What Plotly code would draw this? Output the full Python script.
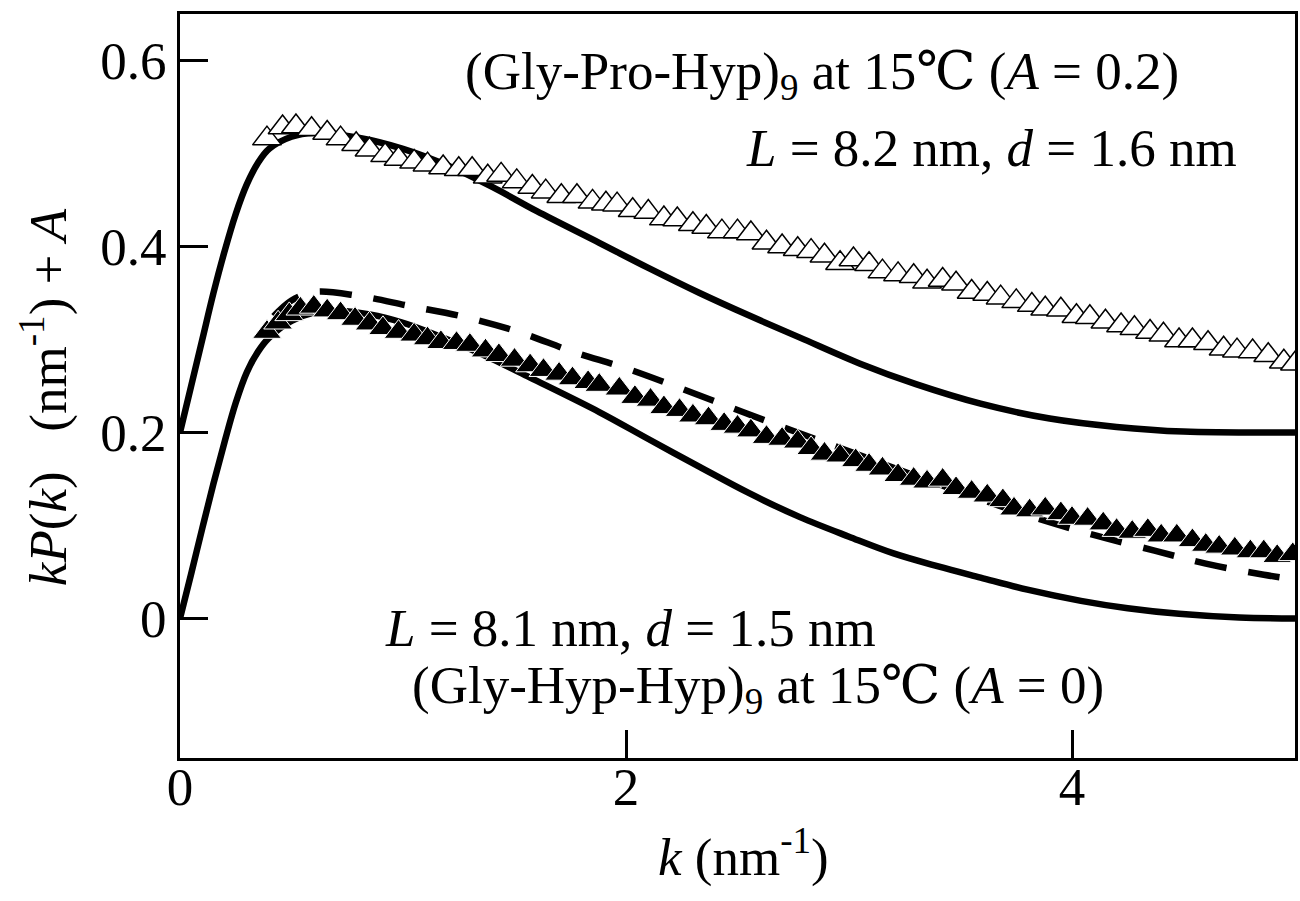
import plotly.graph_objects as go

# ---- data ----
# (Gly-Pro-Hyp)9, offset A = 0.2 (open triangles)
k_gph = [0.39, 0.46, 0.52, 0.59, 0.66, 0.72, 0.79, 0.85, 0.92, 0.98,
         1.05, 1.11, 1.18, 1.25, 1.31, 1.38, 1.44, 1.51, 1.58, 1.64,
         1.71, 1.78, 1.85, 1.91, 1.96, 2.03, 2.10, 2.17, 2.23, 2.30,
         2.36, 2.43, 2.50, 2.56, 2.63, 2.70, 2.77, 2.83, 2.89, 2.96,
         3.02, 3.09, 3.15, 3.22, 3.29, 3.35, 3.42, 3.48, 3.55, 3.62,
         3.68, 3.75, 3.82, 3.88, 3.95, 4.02, 4.08, 4.15, 4.22, 4.28,
         4.35, 4.41, 4.48, 4.54, 4.61, 4.68, 4.74, 4.81, 4.88, 4.95, 5.00]
v_gph = [0.516, 0.528, 0.529, 0.526, 0.522, 0.516, 0.510, 0.504, 0.498, 0.494,
         0.491, 0.488, 0.485, 0.483, 0.483, 0.475, 0.477, 0.470, 0.464, 0.459,
         0.454, 0.454, 0.448, 0.446, 0.445, 0.439, 0.437, 0.430, 0.429, 0.424,
         0.421, 0.416, 0.416, 0.414, 0.404, 0.400, 0.397, 0.395, 0.390, 0.382,
         0.386, 0.381, 0.373, 0.370, 0.368, 0.362, 0.364, 0.360, 0.351, 0.349,
         0.345, 0.341, 0.337, 0.333, 0.332, 0.325, 0.324, 0.319, 0.315, 0.312,
         0.308, 0.305, 0.299, 0.299, 0.296, 0.290, 0.288, 0.287, 0.283, 0.276, 0.274]

# (Gly-Hyp-Hyp)9, offset A = 0 (filled triangles)
k_ghh = [0.39, 0.44, 0.49, 0.54, 0.60, 0.66, 0.72, 0.785, 0.85, 0.91,
         0.98, 1.05, 1.11, 1.17, 1.24, 1.30, 1.37, 1.43, 1.50, 1.57,
         1.63, 1.70, 1.76, 1.83, 1.88, 1.97, 2.04, 2.11, 2.17, 2.24,
         2.30, 2.37, 2.44, 2.50, 2.56, 2.63, 2.70, 2.77, 2.83, 2.89,
         2.96, 3.03, 3.09, 3.15, 3.22, 3.29, 3.35, 3.42, 3.48, 3.55,
         3.62, 3.69, 3.74, 3.81, 3.88, 3.95, 4.00, 4.07, 4.14, 4.20,
         4.27, 4.34, 4.40, 4.47, 4.54, 4.60, 4.66, 4.73, 4.80, 4.86, 4.92, 4.99]
v_ghh = [0.308, 0.318, 0.327, 0.333, 0.335, 0.331, 0.328, 0.322, 0.317, 0.312,
         0.308, 0.305, 0.301, 0.297, 0.296, 0.294, 0.288, 0.283, 0.278, 0.272,
         0.267, 0.263, 0.258, 0.254, 0.251, 0.247, 0.238, 0.235, 0.227, 0.224,
         0.218, 0.215, 0.209, 0.206, 0.202, 0.195, 0.193, 0.190, 0.183, 0.177,
         0.175, 0.170, 0.165, 0.161, 0.154, 0.150, 0.147, 0.149, 0.140, 0.136,
         0.132, 0.127, 0.118, 0.116, 0.118, 0.113, 0.108, 0.107, 0.102, 0.095,
         0.093, 0.095, 0.089, 0.089, 0.084, 0.079, 0.077, 0.075, 0.072, 0.072, 0.067, 0.069]

# model curve, L = 8.2 nm, d = 1.6 nm (+0.2)
k_fit_gph = [0.0, 0.05, 0.1, 0.15, 0.2, 0.25, 0.3, 0.35, 0.4, 0.5, 0.6, 0.8, 1.0, 1.2,
             1.4, 1.6, 1.88, 2.1, 2.33, 2.55, 2.78, 3.05, 3.3, 3.59, 3.9, 4.2, 4.5, 5.0]
v_fit_gph = [0.200, 0.250, 0.300, 0.350, 0.395, 0.435, 0.467, 0.490, 0.505, 0.518, 0.522,
             0.517, 0.505, 0.487, 0.464, 0.438, 0.404, 0.377, 0.350, 0.326, 0.302, 0.274,
             0.252, 0.231, 0.215, 0.206, 0.201, 0.200]

# model curve, L = 8.1 nm, d = 1.5 nm
k_fit_ghh = [0.0, 0.05, 0.1, 0.15, 0.2, 0.25, 0.3, 0.35, 0.4, 0.5, 0.6, 0.7, 0.85, 1.0,
             1.2, 1.4, 1.57, 1.88, 2.1, 2.33, 2.55, 2.78, 3.0, 3.2, 3.4, 3.59, 3.8, 4.04,
             4.25, 4.48, 4.75, 5.0]
v_fit_ghh = [0.000, 0.048, 0.097, 0.145, 0.190, 0.232, 0.265, 0.287, 0.302, 0.320, 0.329,
             0.331, 0.327, 0.318, 0.300, 0.279, 0.259, 0.222, 0.193, 0.163, 0.135, 0.109,
             0.088, 0.070, 0.056, 0.044, 0.031, 0.019, 0.011, 0.005, 0.001, 0.000]

# dashed curve
k_dash = [0.42, 0.5, 0.6, 0.8, 1.03, 1.28, 1.52, 1.76, 2.0, 2.24, 2.47,
          2.70, 2.93, 3.2, 3.5, 3.8, 4.08, 4.37, 4.6, 4.86, 5.0]
v_dash = [0.325, 0.342, 0.351, 0.347, 0.336, 0.324, 0.308, 0.287, 0.269, 0.248, 0.227,
          0.206, 0.186, 0.162, 0.136, 0.111, 0.091, 0.073, 0.059, 0.047, 0.042]

x_ticks = [0, 2, 4]
y_ticks = [0, 0.2, 0.4, 0.6]
y_tick_text = ["0", "0.2", "0.4", "0.6"]

FONT = "Liberation Serif, DejaVu Serif, serif"
FS = 53

fig = go.Figure()
fig.add_trace(go.Scatter(x=k_fit_gph, y=v_fit_gph, mode="lines", line_shape="spline",
                         line=dict(color="black", width=6.5)))
fig.add_trace(go.Scatter(x=k_fit_ghh, y=v_fit_ghh, mode="lines", line_shape="spline",
                         line=dict(color="black", width=6.5)))
fig.add_trace(go.Scatter(x=k_dash, y=v_dash, mode="lines", line_shape="spline",
                         line=dict(color="black", width=6.5, dash="32px,22px")))
fig.add_trace(go.Scatter(x=k_gph, y=v_gph, mode="markers",
                         marker=dict(symbol="triangle-up", size=25, color="white",
                                     line=dict(color="black", width=1.5))))
fig.add_trace(go.Scatter(x=k_ghh, y=v_ghh, mode="markers",
                         marker=dict(symbol="triangle-up", size=25, color="black",
                                     line=dict(color="white", width=1))))

ann_font = dict(family=FONT, size=FS, color="black")
fig.add_annotation(x=2.88, y=0.584, text="(Gly-Pro-Hyp)<sub>9</sub> at 15\u2103 (<i>A</i> = 0.2)",
                   showarrow=False, font=ann_font, xanchor="center", yanchor="middle")
fig.add_annotation(x=4.75, y=0.506, text="<i>L</i> = 8.2 nm, <i>d</i> = 1.6 nm",
                   showarrow=False, font=ann_font, xanchor="right", yanchor="middle")
fig.add_annotation(x=0.91, y=-0.010, text="<i>L</i> = 8.1 nm, <i>d</i> = 1.5 nm",
                   showarrow=False, font=ann_font, xanchor="left", yanchor="middle")
fig.add_annotation(x=2.59, y=-0.076, text="(Gly-Hyp-Hyp)<sub>9</sub> at 15\u2103 (<i>A</i> = 0)",
                   showarrow=False, font=ann_font, xanchor="center", yanchor="middle")

# axis titles
fig.add_annotation(xref="paper", yref="paper", x=0.505, y=-0.129,
                   text="<i>k</i> (nm<sup>-1</sup>)", showarrow=False, font=ann_font,
                   xanchor="center", yanchor="middle")
fig.add_annotation(xref="paper", yref="paper", x=-0.122, y=0.485, textangle=-90,
                   text="<i>kP</i>(<i>k</i>)   (nm<sup>-1</sup>) + <i>A</i>", showarrow=False,
                   font=ann_font, xanchor="center", yanchor="middle")

fig.update_layout(
    width=1300, height=901,
    margin=dict(l=180, r=5, t=14, b=143),
    paper_bgcolor="white", plot_bgcolor="white",
    showlegend=False,
    font=dict(family=FONT, size=FS, color="black"),
)
fig.update_xaxes(range=[0, 5], tickvals=x_ticks, ticktext=[str(v) for v in x_ticks],
                 ticks="inside", ticklen=28, tickwidth=3, tickcolor="black",
                 showline=True, linewidth=3, linecolor="black", mirror=True,
                 showgrid=False, zeroline=False, automargin=False,
                 ticklabelstandoff=-20,
                 tickfont=dict(family=FONT, size=FS))
fig.update_yaxes(range=[-0.15, 0.65], tickvals=y_ticks, ticktext=y_tick_text,
                 ticks="inside", ticklen=28, tickwidth=3, tickcolor="black",
                 showline=True, linewidth=3, linecolor="black", mirror=True,
                 showgrid=False, zeroline=False, automargin=False,
                 tickfont=dict(family=FONT, size=FS))

fig.write_html("out.html", config={"displayModeBar": False},
               post_script="document.body.style.margin='0';document.body.style.overflow='hidden';")
